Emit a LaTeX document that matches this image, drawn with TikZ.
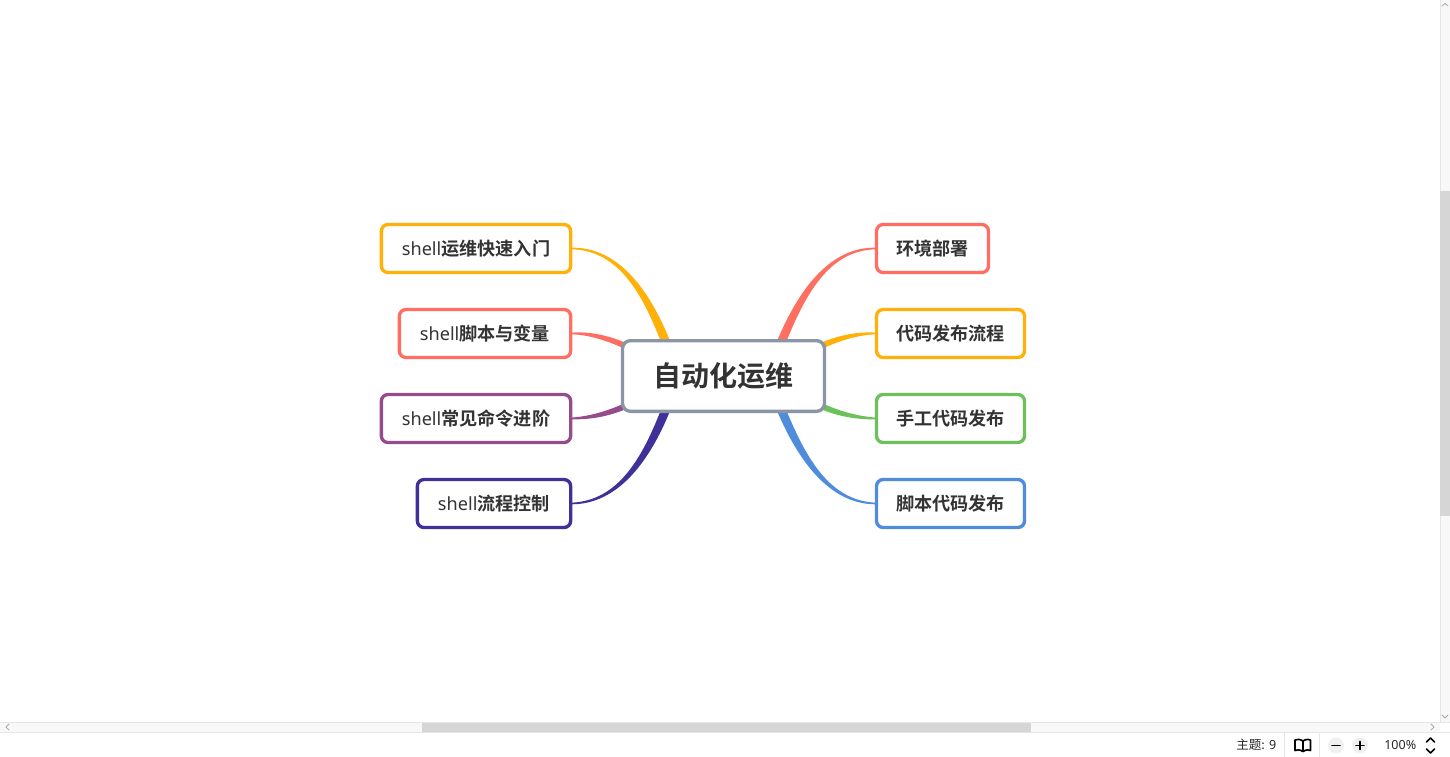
\documentclass[tikz,border=0pt]{standalone}
\usepackage{fontspec}
\setmainfont{Noto Sans}
\newfontfamily\cjkb{Noto Sans CJK SC Bold}
\newfontfamily\cjkr{Noto Sans CJK SC}
\usetikzlibrary{calc,backgrounds}
\definecolor{cYellow}{HTML}{FFB10A}
\definecolor{cSalmon}{HTML}{FF6F61}
\definecolor{cPurple}{HTML}{964B8C}
\definecolor{cIndigo}{HTML}{40319A}
\definecolor{cGreen}{HTML}{6CC15A}
\definecolor{cBlue}{HTML}{4F8CDC}
\definecolor{cRoot}{HTML}{8A95A8}
\definecolor{cText}{HTML}{333333}
\definecolor{cTrack}{HTML}{F8F8F8}
\definecolor{cEdge}{HTML}{E6E6E6}
\definecolor{cThumb}{HTML}{D6D6D6}
\definecolor{cArrow}{HTML}{A8A8A8}
\definecolor{cBtn}{HTML}{F0F0F0}
\tikzset{
  topic/.style={draw=#1,fill=white,line width=2.5pt,rounded corners=5pt,outer sep=0pt,inner sep=0pt,
     minimum height=36pt,text=cText,font=\fontsize{13.6pt}{16pt}\selectfont},
  rootnode/.style={draw=cRoot,fill=white,line width=2.5pt,rounded corners=6pt,outer sep=0pt,inner sep=0pt,
     minimum width=151.5pt,minimum height=53pt,text=cText,font=\fontsize{21pt}{25pt}\selectfont\cjkb},
  statustext/.style={inner sep=0pt,text=black!85,font=\fontsize{9.4pt}{12pt}\selectfont},
  chev/.style={draw=cArrow,line width=0.6pt,line cap=round,line join=round},
  statusline/.style={draw=black,line width=1.2pt,line cap=round,line join=round}
}
\newcommand\taper[6]{%
  \fill[#1] ($(#2)+(0,-0.8)$) .. controls ($(#3)+(0,-1.8)$) and ($(#4)+0.95*(#6)$) .. ($(#5)+(#6)$)
    -- ($(#5)-(#6)$) .. controls ($(#4)-0.95*(#6)$) and ($(#3)+(0,1.8)$) .. ($(#2)+(0,0.8)$) -- cycle;}
\newcommand\shelltext[1]{shell{\cjkb #1}}
\begin{document}
\begin{tikzpicture}[x=0.75pt,y=-0.75pt]
\useasboundingbox (0,0) rectangle (1450,757);
% scrollbars
\fill[cTrack] (1440,0) rectangle (1450,722);
\draw[cEdge,line width=0.6pt] (1440,0) -- (1440,722);
\fill[cThumb] (1440,191) rectangle (1450,516);
\fill[cTrack] (0,722) rectangle (1440,732);
\draw[cEdge,line width=0.6pt] (0,722.5) -- (1450,722.5);
\draw[cEdge,line width=0.75pt] (0,732.5) -- (1450,732.5);
\fill[cThumb] (422,723) rectangle (1031,732);
\draw[chev] (1442,6) -- (1445,3.5) -- (1448,6);
\draw[chev] (1442,715) -- (1445,718) -- (1448,715);
\draw[chev] (9,724) -- (6,727) -- (9,730);
\draw[chev] (1431,724) -- (1434,727) -- (1431,730);
% status bar
\draw[cEdge,line width=0.75pt] (1284.5,733) -- (1284.5,757);
\draw[cEdge,line width=0.75pt] (1319.5,733) -- (1319.5,757);
\node[statustext,anchor=west] (count) at (1236,745) {{\cjkr 主题:} 9};
\draw[statusline] (1303,741) .. controls (1300,739) and (1297,739) .. (1295,740) -- (1295,750.5)
   .. controls (1297,749.5) and (1300,749.5) .. (1303,751.5)
   .. controls (1306,749.5) and (1309,749.5) .. (1310.5,750.5) -- (1310.5,740)
   .. controls (1309,739) and (1306,739) .. (1303,741) -- (1303,751.5);
\fill[cBtn] (1336,745.5) circle (8);
\fill[cBtn] (1360,745.5) circle (8);
\draw[statusline] (1332,745.5) -- (1340,745.5);
\draw[statusline] (1356,745.5) -- (1364,745.5) (1360,741.5) -- (1360,749.5);
\node[statustext,anchor=west] (zoomlevel) at (1384,745) {100\%};
\draw[statusline] (1426.5,742) -- (1430.5,738) -- (1434.5,742);
\draw[statusline] (1426.5,749) -- (1430.5,753) -- (1434.5,749);
% nodes
\node[rootnode] (root) at (723.5,376) {\raisebox{0.4pt}{自动化运维}};
\node[topic=cYellow,minimum width=142pt] (L1) at (476,248.5) {\raisebox{0.5pt}{\shelltext{运维快速入门}}};
\node[topic=cSalmon,minimum width=128.5pt] (L2) at (485,333.5) {\raisebox{0.5pt}{\shelltext{脚本与变量}}};
\node[topic=cPurple,minimum width=142pt] (L3) at (476,418.5) {\raisebox{0.5pt}{\shelltext{常见命令进阶}}};
\node[topic=cIndigo,minimum width=115pt] (L4) at (494,503.5) {\raisebox{0.5pt}{\shelltext{流程控制}}};
\node[topic=cSalmon,minimum width=84pt] (R1) at (932.5,248.5) {\raisebox{0.5pt}{\cjkb 环境部署}};
\node[topic=cYellow,minimum width=111pt] (R2) at (950.5,333.5) {\raisebox{0.5pt}{\cjkb 代码发布流程}};
\node[topic=cGreen,minimum width=111pt] (R3) at (950.5,418.5) {\raisebox{0.5pt}{\cjkb 手工代码发布}};
\node[topic=cBlue,minimum width=111pt] (R4) at (950.5,503.5) {\raisebox{0.5pt}{\cjkb 脚本代码发布}};
\coordinate (eL1) at ($(root.center)+(-55.5,-28)$);
\coordinate (eL2) at ($(root.center)+(-95.5,-29)$);
\coordinate (eL3) at ($(root.center)+(-95.5,29)$);
\coordinate (eL4) at ($(root.center)+(-55.5,28)$);
\coordinate (eR1) at ($(root.center)+(55.5,-28)$);
\coordinate (eR2) at ($(root.center)+(95.5,-29)$);
\coordinate (eR3) at ($(root.center)+(95.5,29)$);
\coordinate (eR4) at ($(root.center)+(55.5,28)$);
% tapered branches
\begin{scope}[on background layer]
\taper{cYellow}{L1.east}{620,248}{648,295}{eL1}{4.2,-1.5}
\taper{cSalmon}{L2.east}{590,333}{608,338}{eL2}{1,-2.8}
\taper{cPurple}{L3.east}{590,418}{608,414}{eL3}{-1,-2.8}
\taper{cIndigo}{L4.east}{620,503}{648,456}{eL4}{-4.2,-1.5}
\taper{cSalmon}{R1.west}{828,248}{800,295}{eR1}{-4.2,-1.5}
\taper{cYellow}{R2.west}{858,333}{838,338}{eR2}{-1,-2.8}
\taper{cGreen}{R3.west}{858,418}{838,414}{eR3}{1,-2.8}
\taper{cBlue}{R4.west}{828,503}{800,456}{eR4}{4.2,-1.5}
\end{scope}
\end{tikzpicture}
\end{document}
